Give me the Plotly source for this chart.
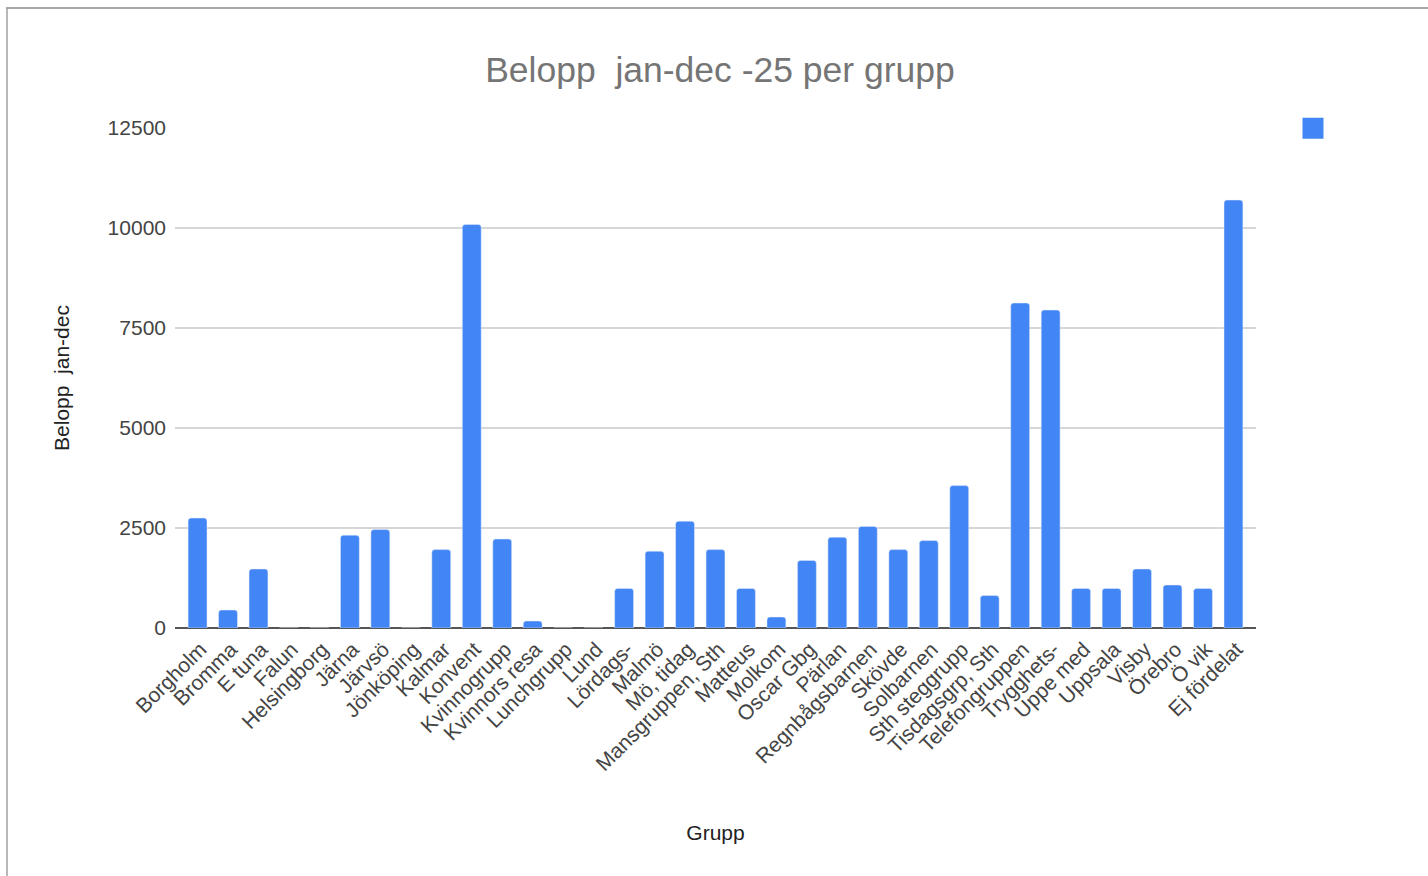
import plotly.graph_objects as go

categories = ["Borgholm", "Bromma", "E tuna", "Falun", "Helsingborg", "Järna", "Järvsö",
              "Jönköping", "Kalmar", "Konvent", "Kvinnogrupp", "Kvinnors resa", "Lunchgrupp",
              "Lund", "Lördags-", "Malmö", "Mö, tidag", "Mansgruppen, Sth", "Matteus", "Molkom",
              "Oscar Gbg", "Pärlan", "Regnbågsbarnen", "Skövde", "Solbarnen", "Sth steggrupp",
              "Tisdagsgrp, Sth", "Telefongruppen", "Trygghets-", "Uppe med", "Uppsala", "Visby",
              "Örebro", "Ö vik", "Ej fördelat"]
values = [2750, 450, 1475, 0, 0, 2320, 2460,
          0, 1960, 10090, 2225, 175, 0,
          0, 990, 1920, 2670, 1960, 990, 275,
          1690, 2270, 2540, 1960, 2185, 3560,
          810, 8125, 7950, 990, 990, 1475,
          1075, 990, 10700]
y_ticks = [0, 2500, 5000, 7500, 10000, 12500]

W, H = 1428, 876
L, R, T, B = 175, 1256, 128, 628
BLUE = "#4285F4"
XPAD = 0.24


def px(x):
    return (x - L) / (R - L)


def py(y):
    return (B - y) / (B - T)


fig = go.Figure()
fig.add_trace(go.Bar(x=categories, y=values, marker=dict(color=BLUE),
                     name="", showlegend=False))
# legend entry (marker only, no text) like the original
fig.add_trace(go.Scatter(x=[None], y=[None], mode="markers", name="",
                         marker=dict(symbol="square", size=16, color=BLUE,
                                     line=dict(color=BLUE, width=5)),
                         showlegend=True, hoverinfo="skip"))

fig.update_layout(
    width=W, height=H,
    margin=dict(l=L, r=W - R, t=T, b=H - B, autoexpand=False),
    paper_bgcolor="white", plot_bgcolor="white",
    font=dict(family="Liberation Sans, Arial, sans-serif", color="#444444"),
    title=dict(text="Belopp  jan-dec -25 per grupp", x=720 / W, xanchor="center",
               y=1 - 70 / H, yanchor="middle", yref="container",
               font=dict(size=35.5, color="#757575")),
    bargap=0.38,
    barcornerradius=3,
    showlegend=True,
    legend=dict(x=px(1293), y=py(110), xanchor="left", yanchor="top",
                font=dict(size=18), bgcolor="rgba(0,0,0,0)"),
    xaxis=dict(tickangle=-45, tickfont=dict(size=21, color="#444444"),
               range=[-0.5 - XPAD, len(categories) - 0.5 + XPAD],
               ticklabelshift=3, ticklabelstandoff=4,
               title=dict(text="Grupp", font=dict(size=21, color="#222222"), standoff=51),
               showgrid=False, showline=False, ticks="", automargin=False),
    yaxis=dict(range=[0, 12500], tickvals=y_ticks, tickformat="d",
               tickfont=dict(size=21, color="#444444"), ticklabelstandoff=8,
               title=dict(text="Belopp  jan-dec", font=dict(size=21, color="#222222"), standoff=32),
               showgrid=True, gridcolor="#d6d6d6", gridwidth=1.5,
               zeroline=True, zerolinecolor="#555555", zerolinewidth=2,
               ticks="", automargin=False),
    shapes=[
        dict(type="line", xref="paper", yref="paper", x0=px(6), x1=px(1440), y0=py(8), y1=py(8),
             line=dict(color="#a8a8a8", width=2)),
        dict(type="line", xref="paper", yref="paper", x0=px(7), x1=px(7), y0=py(8), y1=py(890),
             line=dict(color="#a0a0a0", width=1.5)),
    ],
)

fig.write_html("out.html", config={"displayModeBar": False},
               post_script="document.body.style.margin='0';document.body.style.overflow='hidden';")
